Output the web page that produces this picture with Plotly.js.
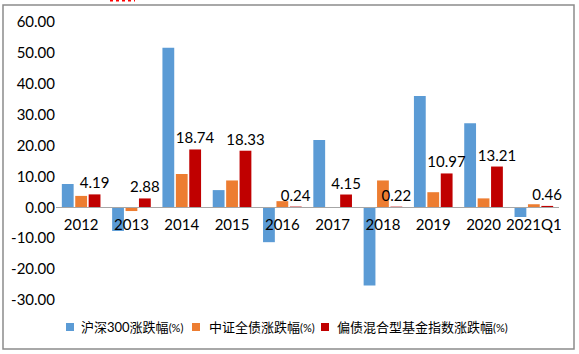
<!DOCTYPE html>
<html>
<head>
<meta charset="utf-8">
<script src="https://cdn.plot.ly/plotly-3.0.1.min.js"></script>
<style>html,body{margin:0;padding:0;background:#fff;}#chart{width:579px;height:354px;}</style>
</head>
<body>
<div id="chart"></div>
<script>
var categories = ["2012","2013","2014","2015","2016","2017","2018","2019","2020","2021Q1"];
var hs300 = [7.55, -7.65, 51.66, 5.58, -11.28, 21.78, -25.31, 36.07, 27.21, -3.13];
var bondIndex = [3.7, -1.2, 10.8, 8.7, 2.0, -0.2, 8.7, 4.9, 2.9, 1.0];
var hybridFund = [4.19, 2.88, 18.74, 18.33, 0.24, 4.15, 0.22, 10.97, 13.21, 0.46];
var hybridLabels = ["4.19","2.88","18.74","18.33","0.24","4.15","0.22","10.97","13.21","0.46"];
var seriesNames = ["沪深300涨跌幅", "中证全债涨跌幅", "偏债混合型基金指数涨跌幅"];
var unitSuffix = "(%)";
var yTickVals = [-30,-20,-10,0,10,20,30,40,50,60];
var yTickText = ["-30.00","-20.00","-10.00","0.00","10.00","20.00","30.00","40.00","50.00","60.00"];

var COLORS = ['#5B9BD5', '#ED7D31', '#C00000'];
var FONT = "Lato, 'Noto Sans CJK SC', sans-serif";

// plot area in pixels (for converting legend pixel positions to paper coords)
var PL = 56, PW = 503, PT = 22, PH = 278;
function px(x){ return (x - PL) / PW; }
function py(y){ return (PT + PH - y) / PH; }

var traces = [
  {type:'bar', x:categories, y:hs300, name:seriesNames[0], marker:{color:COLORS[0]}, hoverinfo:'none'},
  {type:'bar', x:categories, y:bondIndex, name:seriesNames[1], marker:{color:COLORS[1]}, hoverinfo:'none'},
  {type:'bar', x:categories, y:hybridFund, name:seriesNames[2], marker:{color:COLORS[2]},
   text:hybridLabels, textposition:'outside', cliponaxis:false, constraintext:'none',
   textfont:{family:FONT, size:15, color:'#000'}, hoverinfo:'none'}
];

// custom legend
var legendSquareX = [66, 192, 321];
var legendTextX = [79, 207, 335];
var legendY = 327;
var shapes = [
  {type:'rect', xref:'paper', yref:'paper', x0:px(3), x1:px(574), y0:py(349), y1:py(5),
   line:{color:'#8c8c8c', width:1.5}, fillcolor:'rgba(0,0,0,0)', layer:'below'},
  {type:'line', xref:'paper', yref:'paper', x0:px(110), x1:px(135), y0:py(0.5), y1:py(0.5),
   line:{color:'#ff0000', width:2, dash:'dot'}}
];
var annotations = [];
seriesNames.forEach(function(n, i){
  shapes.push({type:'rect', xref:'paper', yref:'paper', x0:px(legendSquareX[i]), x1:px(legendSquareX[i]+8),
               y0:py(legendY+4), y1:py(legendY-4), line:{width:0}, fillcolor:COLORS[i]});
  annotations.push({xref:'paper', yref:'paper', x:px(legendTextX[i]), y:py(legendY), xanchor:'left', yanchor:'middle',
                    showarrow:false, text:n + '<span style="font-size:11px">' + unitSuffix + '</span>',
                    font:{family:FONT, size:13, color:'#000'}});
});

var layout = {
  width:579, height:354,
  margin:{l:PL, r:579-PL-PW, t:PT, b:354-PT-PH, pad:0},
  paper_bgcolor:'#fff', plot_bgcolor:'#fff',
  font:{family:FONT, size:15, color:'#000'},
  barmode:'group', bargap:0.2, bargroupgap:0.12,
  showlegend:false,
  xaxis:{type:'category', anchor:'free', position:1/3, showline:true, linecolor:'#a6a6a6', linewidth:1,
         ticks:'', ticklabelstandoff:4, showgrid:false, zeroline:false, tickfont:{family:FONT, size:15, color:'#000'}},
  yaxis:{range:[-30,60], tickvals:yTickVals, ticktext:yTickText, showgrid:false, zeroline:false, showline:false,
         ticks:'', tickfont:{family:FONT, size:15, color:'#000'}},
  shapes:shapes,
  annotations:annotations
};

Plotly.newPlot('chart', traces, layout, {displayModeBar:false, staticPlot:true});
</script>
</body>
</html>
